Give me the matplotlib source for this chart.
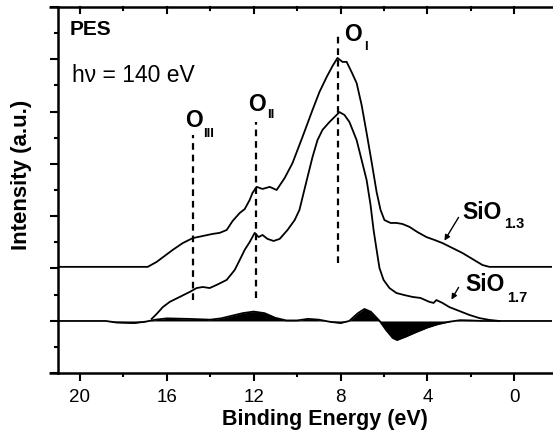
import numpy as np
import matplotlib
matplotlib.use("Agg")
import matplotlib.pyplot as plt
from matplotlib.ticker import MultipleLocator

plt.rcParams['font.family'] = ['Liberation Sans', 'DejaVu Sans']

# ---- data (binding energy in eV, intensity in arbitrary units above each baseline) ----
sio13_energy = [21.0, 16.87, 16.46, 16.09, 15.72, 15.26, 14.80, 14.34, 13.89, 13.56, 13.24,
                12.97, 12.64, 12.41, 12.18, 12.05, 11.86, 11.59, 11.26, 10.94, 10.57, 10.21,
                9.75, 9.29, 8.97, 8.64, 8.37, 8.14, 7.91, 7.72, 7.49, 7.26, 7.03, 6.80, 6.57,
                6.34, 6.16, 5.98, 5.70, 5.43, 5.15, 4.83, 4.46, 4.05, 3.68, 3.31, 2.85, 2.39,
                1.93, 1.47, 1.15, -1.75]
sio13_intensity = [0.0, 0.0, 0.19, 0.42, 0.65, 0.91, 1.10, 1.18, 1.26, 1.30, 1.41,
                   1.75, 2.06, 2.21, 2.56, 2.83, 3.06, 2.98, 3.06, 2.94, 3.40, 3.97,
                   4.97, 6.00, 6.69, 7.26, 7.68, 7.99, 7.84, 7.84, 7.45, 7.03, 6.19, 5.12, 4.01,
                   2.86, 2.18, 1.79, 1.68, 1.68, 1.64, 1.53, 1.33, 1.14, 1.03, 0.91, 0.72, 0.53,
                   0.30, 0.07, 0.0, 0.0]

sio17_energy = [16.69, 16.46, 16.18, 15.86, 15.40, 14.94, 14.62, 14.34, 14.02, 13.70, 13.24,
                12.87, 12.64, 12.41, 12.18, 11.95, 11.77, 11.59, 11.36, 11.08, 10.80, 10.44,
                10.11, 9.89, 9.61, 9.29, 9.06, 8.83, 8.51, 8.23, 8.05, 7.82, 7.59, 7.26, 7.03,
                6.80, 6.62, 6.48, 6.34, 6.21, 6.02, 5.75, 5.43, 5.06, 4.69, 4.32, 3.91, 3.72,
                3.59, 3.31, 2.99, 2.53, 2.07, 1.61, 1.15, 0.69]
sio17_intensity = [0.08, 0.27, 0.53, 0.73, 0.92, 1.11, 1.26, 1.30, 1.26, 1.38, 1.57,
                   1.95, 2.33, 2.72, 3.02, 3.37, 3.21, 3.29, 3.14, 3.06, 3.14, 3.48,
                   3.86, 4.25, 5.20, 6.27, 6.92, 7.31, 7.61, 7.84, 7.99, 7.88, 7.61, 6.92, 6.16,
                   5.39, 4.44, 3.48, 2.72, 2.03, 1.57, 1.26, 1.07, 0.99, 0.92, 0.88, 0.73, 0.69,
                   0.80, 0.69, 0.53, 0.38, 0.23, 0.11, 0.04, 0.0]

diff_energy = [21.0, 18.8, 18.3, 17.5, 17.0, 16.5, 16.0, 15.0, 14.0, 13.5, 13.0, 12.5, 12.0,
               11.5, 11.0, 10.5, 10.0, 9.5, 9.0, 8.5, 8.0, 7.6, 7.2, 6.9, 6.6, 6.2, 5.9, 5.6,
               5.4, 5.0, 4.5, 4.0, 3.5, 3.0, 2.5, 2.0, 1.5, -1.75]
diff_intensity = [0.0, 0.0, -0.06, -0.08, -0.03, 0.05, 0.10, 0.08, 0.05, 0.10, 0.20, 0.30, 0.36,
                  0.30, 0.12, 0.02, 0.02, 0.08, 0.05, -0.03, -0.08, 0.0, 0.30, 0.46, 0.35, 0.0,
                  -0.35, -0.65, -0.73, -0.60, -0.42, -0.25, -0.12, -0.03, 0.03, 0.02, 0.0, 0.0]

peak_names = ['III', 'II', 'I']
peak_energy = [14.8, 11.9, 8.1]

x_ticks = [20, 16, 12, 8, 4, 0]

# ---- styling / layout ----
W, H = 553, 436
offset_13 = 4.06
offset_17 = 1.99
offset_diff = 1.99

fig = plt.figure(figsize=(W / 100, H / 100), dpi=100)
ax = fig.add_axes([58 / W, 63 / H, 1 - 58 / W - 0.001, (373 - 7) / H])


def ftext(px, py, s, **kw):
    """Place text at a pixel position (origin top-left)."""
    return fig.text(px / W, 1 - py / H, s, **kw)


ax.plot(sio13_energy, np.array(sio13_intensity) + offset_13, color='black', lw=1.3)
ax.plot(sio17_energy, np.array(sio17_intensity) + offset_17, color='black', lw=1.3)
d = np.array(diff_intensity) + offset_diff
ax.fill_between(diff_energy, offset_diff, d, color='black', lw=0)
ax.plot(diff_energy, d, color='black', lw=1.3)

# dashed peak markers
line_tops = [9.10, 9.60, 13.0]
line_bottoms = [2.79, 2.87, 4.21]
for e, t, b in zip(peak_energy, line_tops, line_bottoms):
    ax.plot([e, e], [b, t], color='black', lw=1.6, linestyle=(0, (3, 2.2)))

ax.set_xlim(21.0, -1.75)
ax.set_ylim(0, 14)

ax.xaxis.set_minor_locator(MultipleLocator(2))
ax.yaxis.set_major_locator(MultipleLocator(2))
ax.yaxis.set_minor_locator(MultipleLocator(1))
ax.set_xticks(x_ticks)
ax.set_xticklabels([str(v) for v in x_ticks], fontsize=13.5)
ax.tick_params(axis='x', which='major', direction='out', length=6, width=1.5, pad=5.5)
ax.tick_params(axis='x', which='minor', direction='out', length=3, width=1.5)
ax.tick_params(axis='y', which='major', direction='out', length=6, width=1.5, labelleft=False)
ax.tick_params(axis='y', which='minor', direction='out', length=3, width=1.5)

ax.spines['right'].set_visible(False)
for s in ['left', 'top', 'bottom']:
    ax.spines[s].set_linewidth(1.8)

# top ticks point inward
for e in np.arange(20, -1, -2):
    ln = 6 if e % 4 == 0 else 3
    ax.plot([e, e], [14, 14 - ln / 26.14], color='black', lw=1.5, clip_on=False)

# top/bottom axis lines extend slightly left of the left axis
for yy in (0, 1):
    ax.plot([-0.018, 0], [yy, yy], transform=ax.transAxes, color='black', lw=1.8,
            clip_on=False, solid_capstyle='butt')

ftext(325, 425, 'Binding Energy (eV)', fontsize=15.5, fontweight='bold', ha='center',
      va='baseline')
ftext(22, 175, 'Intensity (a.u.)', fontsize=16, fontweight='bold', ha='center', va='center',
      rotation=90)

ftext(70, 35, 'PES', fontsize=15, fontweight='bold', ha='left', va='baseline')
ftext(72, 82, 'h\u03bd = 140 eV', fontsize=16.5, ha='left', va='baseline')

# peak labels (pixel positions: main 'O' and subscript)
main_pos = [(185, 127), (248, 111), (344, 41)]
sub_pos = [(203, 137), (267, 118), (364, 50)]
for name, (mx, my), (sx, sy) in zip(peak_names, main_pos, sub_pos):
    ftext(mx, my, 'O', fontsize=16.5, fontweight='bold', ha='left', va='baseline')
    ftext(sx, sy, name, fontsize=9.5, fontweight='bold', ha='left', va='baseline')

# sample labels with arrows
ftext(462, 219, 'SiO', fontsize=16.5, fontweight='bold', ha='left', va='baseline')
ftext(504, 228, '1.3', fontsize=10.5, fontweight='bold', ha='left', va='baseline')
ftext(465, 291, 'SiO', fontsize=16.5, fontweight='bold', ha='left', va='baseline')
ftext(507, 302, '1.7', fontsize=10.5, fontweight='bold', ha='left', va='baseline')
for (x0, y0), (x1, y1) in [((460, 215), (443, 243)), ((460, 285), (450, 302))]:
    ax.annotate('', xy=(x1, H - y1), xycoords='figure pixels',
                xytext=(x0, H - y0), textcoords='figure pixels',
                arrowprops=dict(arrowstyle='-|>', color='black', lw=1.0, mutation_scale=8))

fig.savefig('out.png', dpi=100)
